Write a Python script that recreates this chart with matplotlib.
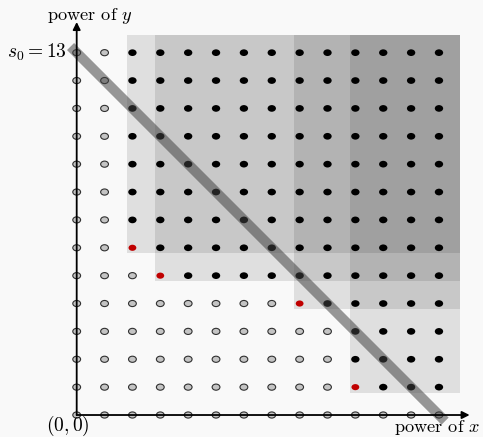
import matplotlib
matplotlib.use("Agg")
import matplotlib.pyplot as plt
from matplotlib.patches import Ellipse, Rectangle

# generators of the monomial ideal (red points)
gen_x = [2, 3, 8, 10]
gen_y = [6, 5, 4, 1]
n_max = 13          # grid goes 0..13 in both directions
s0 = 13             # diagonal from (0, s0) to (s0, 0)

plt.rcParams['mathtext.fontset'] = 'cm'
plt.rcParams['font.family'] = 'cmr10'

W, H = 483, 437
fig = plt.figure(figsize=(W / 100, H / 100), dpi=100, facecolor='#f9f9f9')
ax = fig.add_axes([0, 0, 1, 1])
ax.set_facecolor('#f9f9f9')
ax.set_xlim(-2.752, 14.58)
ax.set_ylim(-0.789, 14.89)
ax.axis('off')

# shaded regions, one per generator, overlapping gets darker
for gx, gy in zip(gen_x, gen_y):
    ax.add_patch(Rectangle((gx - 0.2, gy - 0.2), n_max + 0.75 - (gx - 0.2),
                           n_max + 0.63 - (gy - 0.2),
                           facecolor='k', alpha=0.1, lw=0, zorder=1))


def in_ideal(i, j):
    return any(i >= gx and j >= gy for gx, gy in zip(gen_x, gen_y))


gens = set(zip(gen_x, gen_y))
for i in range(n_max + 1):
    for j in range(n_max + 1):
        if (i, j) in gens:
            fc, ec, lw, w, h = '#c00000', '#c00000', 0, 0.28, 0.22
        elif in_ideal(i, j):
            fc, ec, lw, w, h = 'black', 'black', 0, 0.3, 0.24
        else:
            fc, ec, lw, w, h = '#c4c4c4', '#303030', 0.8, 0.28, 0.22
        ax.add_patch(Ellipse((i, j), w, h, facecolor=fc, edgecolor=ec,
                             lw=lw, zorder=3))

# thick diagonal line, over the points but under the axes
ax.plot([-0.22, s0 + 0.22], [s0 + 0.22, -0.22], color=(0.26, 0.26, 0.26),
        alpha=0.54, lw=7.2, solid_capstyle='butt', zorder=3.5)

# axes with arrows
arrow = dict(arrowstyle='-|>', color='black', lw=1.3, mutation_scale=11,
             shrinkA=0, shrinkB=0)
ax.annotate('', xy=(14.1, 0), xytext=(0, 0), arrowprops=arrow, zorder=4)
ax.annotate('', xy=(0, 14.1), xytext=(0, 0), arrowprops=arrow, zorder=4)

ax.text(0.48, 14.17, r'power of $y$', fontsize=13.2, ha='center', va='baseline')
ax.text(-0.35, s0, r'$s_0 = 13$', fontsize=14, ha='right', va='center')
ax.text(-0.31, -0.58, r'$(0,0)$', fontsize=14, ha='center', va='baseline')
ax.text(14.47, -0.62, r'power of $x$', fontsize=13.2, ha='right', va='baseline')

fig.savefig('out.png', dpi=100, facecolor=fig.get_facecolor())
